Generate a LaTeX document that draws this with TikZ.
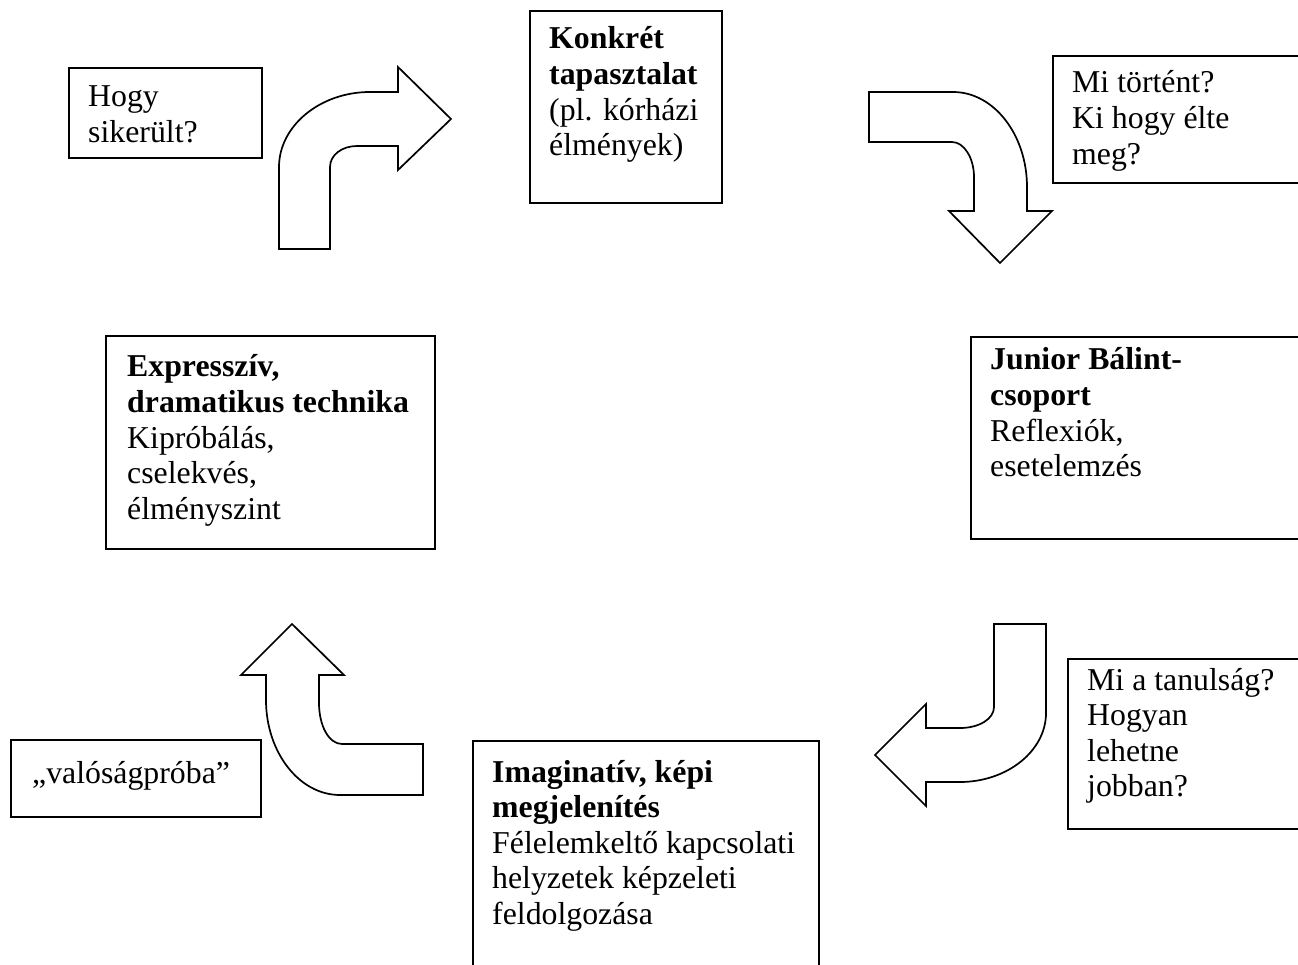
\documentclass[tikz,border=0pt]{standalone}
\usepackage{fontspec}
\setmainfont{Liberation Serif}
\newcommand{\sorok}[1]{\begin{tabular}[t]{@{}l@{}}#1\end{tabular}}
\tikzset{
  doboz/.style={draw, line width=1.8pt, inner sep=0pt, anchor=north west},
  szoveg/.style={inner sep=0pt, anchor=base west},
  nyil/.style={draw, line width=1.7pt, fill=white, line join=miter}
}
\begin{document}
\begin{tikzpicture}[x=1pt,y=-1pt,font=\fontsize{31.8}{35.6}\selectfont]
\clip (0,0) rectangle (1298,965);
\node[doboz, minimum width=193pt, minimum height=90pt] (hogy) at (68,67) {};
\node[szoveg] (hogy-t) at ([shift={(20,40)}]hogy.north west) {\sorok{Hogy\\sikerült?}};
\node[doboz, minimum width=192pt, minimum height=192pt] (konkret) at (529,10) {};
\node[szoveg] (konkret-t) at ([shift={(20,39)}]konkret.north west) {\sorok{\textbf{Konkrét}\\\textbf{tapasztalat}\\(pl. kórházi\\élmények)}};
\node[doboz, minimum width=270pt, minimum height=127pt] (tortent) at (1052,55) {};
\node[szoveg] (tortent-t) at ([shift={(20,38)}]tortent.north west) {\sorok{Mi történt?\\Ki hogy élte\\meg?}};
\node[doboz, minimum width=329pt, minimum height=213pt] (expr) at (105,335) {};
\node[szoveg] (expr-t) at ([shift={(22,42)}]expr.north west) {\sorok{\textbf{Expresszív,}\\\textbf{dramatikus technika}\\Kipróbálás,\\cselekvés,\\élményszint}};
\node[doboz, minimum width=340pt, minimum height=202pt] (junior) at (970,336) {};
\node[szoveg] (junior-t) at ([shift={(20,34)}]junior.north west) {\sorok{\textbf{Junior Bálint-}\\\textbf{csoport}\\Reflexiók,\\esetelemzés}};
\node[doboz, minimum width=245pt, minimum height=170pt] (tanulsag) at (1067,658) {};
\node[szoveg] (tanulsag-t) at ([shift={(20,32)}]tanulsag.north west) {\sorok{Mi a tanulság?\\Hogyan\\lehetne\\jobban?}};
\node[doboz, minimum width=250pt, minimum height=77pt] (valosag) at (10,739) {};
\node[szoveg] (valosag-t) at ([shift={(22,44)}]valosag.north west) {„valóságpróba”};
\node[doboz, minimum width=346pt, minimum height=250pt] (imag) at (472,740) {};
\node[szoveg] (imag-t) at ([shift={(20,42)}]imag.north west) {\sorok{\textbf{Imaginatív, képi}\\\textbf{megjelenítés}\\Félelemkeltő kapcsolati\\helyzetek képzeleti\\feldolgozása}};
% nyilak
\draw[nyil] (279,249) -- (279,167) .. controls (279,126) and (320,92) .. (370,92) -- (398,92) -- (398,67) -- (451,119) -- (398,170) -- (398,146) -- (357,146) .. controls (342,146) and (330,155) .. (330,167) -- (330,249) -- cycle;
\draw[nyil] (869,92) -- (953,92) .. controls (994,92) and (1027,135) .. (1027,187) -- (1027,211) -- (1052,211) -- (1000,263) -- (949,211) -- (974,211) -- (974,177) .. controls (974,158) and (964,142) .. (952,142) -- (869,142) -- cycle;
\draw[nyil] (994,624) -- (1046,624) -- (1046,713) .. controls (1046,751) and (1007,782) .. (960,782) -- (926,782) -- (926,806) -- (875,755) -- (926,704) -- (926,728) -- (960,728) .. controls (979,728) and (994,719) .. (994,707) -- cycle;
\draw[nyil] (423,744) -- (423,795) -- (340,795) .. controls (299,795) and (266,752) .. (266,700) -- (266,675) -- (241,675) -- (292,624) -- (344,675) -- (319,675) -- (319,703) .. controls (319,726) and (329,744) .. (342,744) -- cycle;
\end{tikzpicture}
\end{document}
